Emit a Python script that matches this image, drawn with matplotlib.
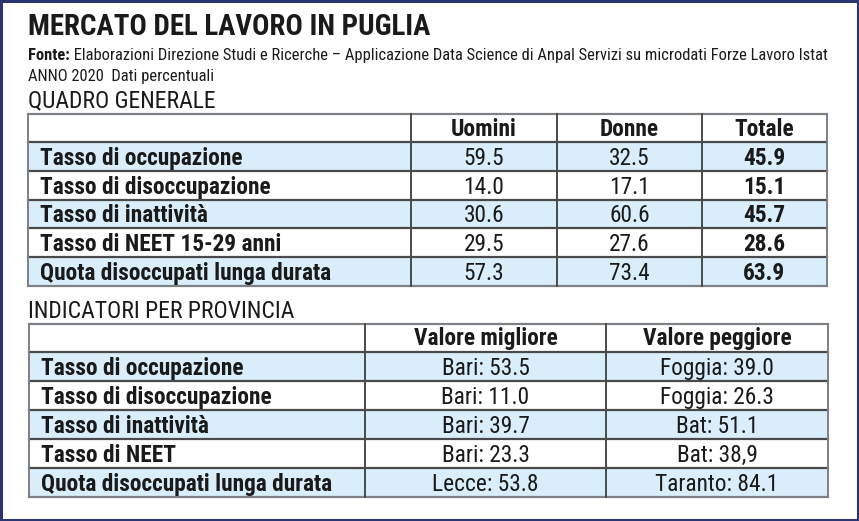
import matplotlib
matplotlib.use("Agg")
import matplotlib.pyplot as plt
from matplotlib.patches import Rectangle

# ---------------- data ----------------
title = "MERCATO DEL LAVORO IN PUGLIA"
source_bold = "Fonte:"
source_text = " Elaborazioni Direzione Studi e Ricerche – Applicazione Data Science di Anpal Servizi su microdati Forze Lavoro Istat"
subtitle = "ANNO 2020  Dati percentuali"

section1 = "QUADRO GENERALE"
t1_columns = ["Uomini", "Donne", "Totale"]
t1_rows = ["Tasso di occupazione", "Tasso di disoccupazione", "Tasso di inattività",
           "Tasso di NEET 15-29 anni", "Quota disoccupati lunga durata"]
uomini = ["59.5", "14.0", "30.6", "29.5", "57.3"]
donne = ["32.5", "17.1", "60.6", "27.6", "73.4"]
totale = ["45.9", "15.1", "45.7", "28.6", "63.9"]

section2 = "INDICATORI PER PROVINCIA"
t2_columns = ["Valore migliore", "Valore peggiore"]
t2_rows = ["Tasso di occupazione", "Tasso di disoccupazione", "Tasso di inattività",
           "Tasso di NEET", "Quota disoccupati lunga durata"]
migliore = ["Bari: 53.5", "Bari: 11.0", "Bari: 39.7", "Bari: 23.3", "Lecce: 53.8"]
peggiore = ["Foggia: 39.0", "Foggia: 26.3", "Bat: 51.1", "Bat: 38,9", "Taranto: 84.1"]

# ---------------- style ----------------
FONT = ["Roboto Condensed", "IBM Plex Sans Condensed", "DejaVu Sans"]
plt.rcParams["font.family"] = FONT
BLUE = "#d9eefa"
NAVY = "#2a3470"
LINE = "#4a4a4a"
TEXT = "#1a1a1a"
TFS = 16.8

W, H = 859, 521
fig = plt.figure(figsize=(W / 100, H / 100), dpi=100)
ax = fig.add_axes([0, 0, 1, 1])
ax.set_xlim(0, W)
ax.set_ylim(H, 0)
ax.axis("off")

# outer frame
ax.add_patch(Rectangle((1, 1), W - 2.5, H - 2.5, fill=False, edgecolor=NAVY, lw=2.2))

# headings
ax.text(28, 35, title, fontsize=20.8, fontweight="bold", color=TEXT, va="baseline", ha="left")
tb = ax.text(28, 60, source_bold, fontsize=11.9, fontweight="bold", color=TEXT, va="baseline", ha="left")
fig.canvas.draw()
bb = tb.get_window_extent()
x_after = ax.transData.inverted().transform((bb.x1, bb.y0))[0]
ax.text(x_after, 60, source_text, fontsize=11.9, color=TEXT, va="baseline", ha="left")
ax.text(28, 81, subtitle, fontsize=11.9, color=TEXT, va="baseline", ha="left")
ax.text(28, 107, section1, fontsize=17, color=TEXT, va="baseline", ha="left")
ax.text(28, 318, section2, fontsize=17, color=TEXT, va="baseline", ha="left")


def draw_table(x_edges, y_top, row_h, head_h, columns, rows, cols_values, bold_cols):
    n = len(rows)
    y_edges = [y_top, y_top + head_h] + [y_top + head_h + row_h * (i + 1) for i in range(n)]
    left, right = x_edges[0], x_edges[-1]
    for i in range(n):
        if i % 2 == 0:
            ax.add_patch(Rectangle((left, y_edges[i + 1]), right - left, row_h,
                                   facecolor=BLUE, edgecolor="none", zorder=1))
    for k, y in enumerate(y_edges):
        col = "#7d8185" if k in (0, len(y_edges) - 1) else LINE
        ax.plot([left, right], [y, y], color=col, lw=1.6, zorder=3, solid_capstyle="projecting")
    for k, x in enumerate(x_edges):
        col = "#7d8185" if k in (0, len(x_edges) - 1) else LINE
        ax.plot([x, x], [y_edges[0], y_edges[-1]], color=col, lw=1.4, zorder=3)
    for j, c in enumerate(columns):
        cx = (x_edges[j + 1] + x_edges[j + 2]) / 2
        ax.text(cx, y_top + head_h - 6.5, c, fontsize=TFS, fontweight="bold", color=TEXT,
                ha="center", va="baseline", zorder=4)
    for i, r in enumerate(rows):
        yb = y_edges[i + 1] + row_h - 6
        ax.text(x_edges[0] + 12, yb, r, fontsize=TFS, fontweight="bold", color=TEXT,
                ha="left", va="baseline", zorder=4)
        for j, vals in enumerate(cols_values):
            cx = (x_edges[j + 1] + x_edges[j + 2]) / 2
            ax.text(cx, yb, vals[i], fontsize=TFS, color=TEXT,
                    fontweight="bold" if j in bold_cols else "normal",
                    ha="center", va="baseline", zorder=4)


draw_table([28, 411, 557, 702, 827], 113.5, 28.8, 28.5, t1_columns, t1_rows,
           [uomini, donne, totale], bold_cols={2})
draw_table([29, 365, 606, 828], 323.5, 29.0, 28.5, t2_columns, t2_rows,
           [migliore, peggiore], bold_cols=set())

fig.savefig("out.png", dpi=100)
